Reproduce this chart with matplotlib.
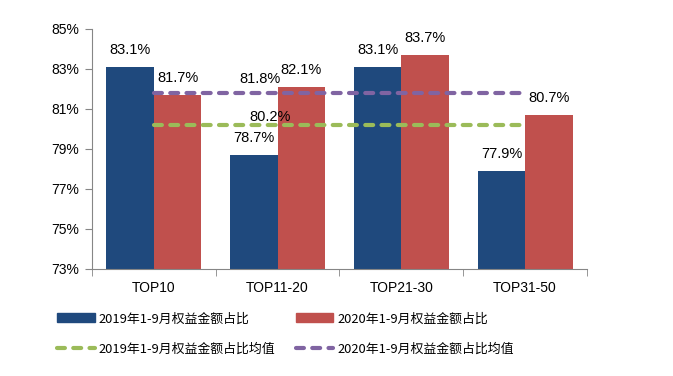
import matplotlib
matplotlib.use("Agg")
import matplotlib.pyplot as plt
import numpy as np
from matplotlib.patches import Rectangle
from matplotlib.lines import Line2D

plt.rcParams['font.family'] = ['Liberation Sans', 'Noto Sans CJK SC', 'DejaVu Sans']

categories = ['TOP10', 'TOP11-20', 'TOP21-30', 'TOP31-50']
share_2019 = [83.1, 78.7, 83.1, 77.9]
share_2020 = [81.7, 82.1, 83.7, 80.7]
avg_2019 = 80.2
avg_2020 = 81.8
yticks = [73, 75, 77, 79, 81, 83, 85]
labels = ['2019年1-9月权益金额占比', '2020年1-9月权益金额占比',
          '2019年1-9月权益金额占比均值', '2020年1-9月权益金额占比均值']

blue = '#1F497D'
red = '#C0504D'
green = '#9BBB59'
purple = '#8064A2'
grey = '#868686'

fig = plt.figure(figsize=(6.73, 3.76), dpi=100)
ax = fig.add_axes([0.1367, 0.2846, 0.7355, 0.6383])

x = np.arange(len(categories))
w = 0.383
ax.bar(x - w / 2, np.array(share_2019) - 73, w, bottom=73, color=blue)
ax.bar(x + w / 2, np.array(share_2020) - 73, w, bottom=73, color=red)

for xs, vals in ((x - w / 2, share_2019), (x + w / 2, share_2020)):
    for xi, v in zip(xs, vals):
        ax.annotate(f'{v:.1f}%', (xi, v), xytext=(0, 7), textcoords='offset points',
                    ha='center', va='bottom', fontsize=10.5)

dash = dict(lw=3, dashes=(1.9, 2.0), dash_capstyle='round')
ax.plot([x[0], x[-1]], [avg_2019] * 2, color=green, **dash)
ax.plot([x[0], x[-1]], [avg_2020] * 2, color=purple, **dash)
ax.annotate(f'{avg_2020:.1f}%', (0.86, avg_2020), xytext=(0, 5), textcoords='offset points',
            ha='center', va='bottom', fontsize=10.5)
ax.annotate(f'{avg_2019:.1f}%', (0.94, avg_2019), xytext=(0, 1), textcoords='offset points',
            ha='center', va='bottom', fontsize=10.5)

ax.set_xlim(-0.5, 3.5)
ax.set_ylim(73, 85)
ax.set_yticks(yticks)
ax.set_yticklabels([f'{t}%' for t in yticks], fontsize=10)
ax.set_xticks(x)
ax.set_xticklabels(categories, fontsize=10)
ax.set_xticks(np.arange(-0.5, 4, 1), minor=True)
ax.tick_params(axis='x', which='major', length=0, pad=9)
ax.tick_params(axis='x', which='minor', length=5, color=grey, direction='out')
ax.tick_params(axis='y', length=5, color=grey, direction='out', pad=4)
for s in ('top', 'right'):
    ax.spines[s].set_visible(False)
for s in ('left', 'bottom'):
    ax.spines[s].set_color(grey)

h_blue = Rectangle((0, 0), 1, 1, color=blue)
h_red = Rectangle((0, 0), 1, 1, color=red)
h_green = Line2D([], [], color=green, **dash)
h_purple = Line2D([], [], color=purple, **dash)
# legend fills column by column, so order handles to get two rows
fig.legend([h_blue, h_green, h_red, h_purple], [labels[0], labels[2], labels[1], labels[3]],
           ncol=2, loc='upper left', bbox_to_anchor=(0.068, 0.2),
           frameon=False, handlelength=2.9, handletextpad=0.3, columnspacing=1.6,
           labelspacing=1.35, prop={'family': ['Noto Sans CJK SC'], 'size': 9.3})

fig.savefig('out.png', dpi=100)
